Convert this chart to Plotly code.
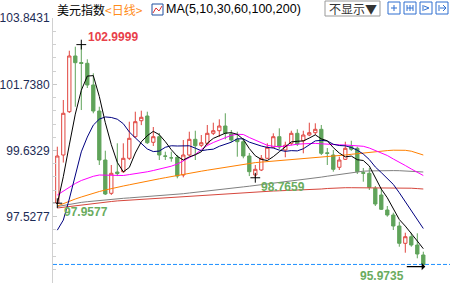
import plotly.graph_objects as go

# ---------------- data ----------------
idx = list(range(62))
opens = [97.96, 99.49, 100.867, 102.638, 102.43, 102.406, 101.716, 100.889, 99.331, 98.272,
         98.949, 98.959, 99.385, 100.072, 100.58, 100.73, 99.894, 100.072, 99.46, 99.40,
         99.417, 98.854, 99.49, 99.989, 99.798, 99.862, 100.18, 100.262, 100.412, 100.158,
         99.989, 99.913, 99.458, 98.854, 99.013, 99.385, 99.735, 100.072, 99.649, 99.862,
         100.18, 99.944, 100.126, 100.199, 100.307, 99.56, 99.49, 99.099, 99.353, 99.754,
         99.703, 98.93, 98.908, 98.431, 98.218, 97.741, 97.582, 97.232, 96.682, 96.892,
         96.628, 96.31]
highs = [99.754, 101.239, 102.806, 102.933, 102.9999, 102.533, 102.088, 101.025, 99.627, 99.172,
         99.862, 99.862, 100.549, 100.867, 100.899, 100.867, 100.38, 100.19, 99.595, 99.595,
         99.49, 99.967, 100.231, 100.262, 100.126, 100.444, 100.517, 100.625, 100.816, 100.285,
         100.231, 100.021, 99.554, 99.172, 99.49, 99.862, 100.18, 100.339, 99.913, 100.262,
         100.307, 100.262, 100.517, 100.498, 100.444, 99.712, 99.649, 99.436, 99.913, 99.944,
         99.754, 99.077, 99.077, 98.504, 98.431, 97.868, 97.655, 97.369, 97.019, 97.019,
         97.0, 96.415]
lows = [97.9577, 99.25, 100.825, 101.025, 100.92, 101.62, 100.816, 99.172, 98.218, 98.22,
        98.82, 98.92, 99.33, 100.03, 100.44, 99.84, 99.776, 99.331, 99.331, 99.277,
        98.749, 98.78, 99.46, 99.331, 99.74, 99.80, 100.126, 100.07, 99.989, 99.90,
        99.436, 99.385, 98.82, 98.7659, 98.98, 99.36, 99.71, 99.68, 99.417, 99.80,
        99.776, 99.544, 100.09, 100.126, 99.49, 99.172, 98.959, 99.013, 99.331, 99.62,
        98.886, 98.641, 98.377, 97.868, 97.741, 97.528, 97.105, 96.574, 96.383, 96.574,
        96.205, 95.9735]
closes = [99.458, 100.816, 102.638, 102.425, 102.40, 101.716, 100.889, 99.331, 98.25, 98.908,
          98.90, 99.385, 100.021, 100.549, 100.689, 99.881, 100.072, 99.49, 99.45, 99.40,
          98.822, 99.49, 99.989, 99.785, 99.881, 100.18, 100.262, 100.412, 100.18, 99.967,
          99.913, 99.458, 98.959, 99.035, 99.385, 99.735, 100.072, 99.744, 99.80, 100.18,
          99.84, 100.126, 100.199, 100.307, 99.544, 99.54, 99.035, 99.331, 99.703, 99.671,
          98.959, 98.91, 98.463, 97.932, 97.763, 97.582, 97.232, 96.682, 96.892, 96.628,
          96.342, 96.01]

ma5 = [97.93, 98.80, 99.81, 100.79, 101.547, 101.999, 102.014, 101.352, 100.517, 99.819,
       99.256, 98.955, 99.093, 99.553, 99.909, 100.105, 100.242, 100.136, 99.916, 99.659,
       99.447, 99.330, 99.430, 99.497, 99.593, 99.865, 100.019, 100.104, 100.183, 100.200,
       100.147, 99.986, 99.695, 99.466, 99.350, 99.314, 99.437, 99.594, 99.747, 99.906,
       99.927, 99.938, 100.029, 100.130, 100.003, 99.943, 99.725, 99.551, 99.431, 99.456,
       99.340, 99.315, 99.141, 98.787, 98.405, 98.130, 97.794, 97.438, 97.230, 97.003,
       96.755, 96.511]
ma10 = [97.10, 97.42, 98.09, 98.89, 99.59, 100.06, 100.44, 100.63, 100.70, 100.683,
        100.628, 100.485, 100.223, 100.035, 99.864, 99.681, 99.599, 99.615, 99.735, 99.784,
        99.776, 99.786, 99.783, 99.707, 99.626, 99.656, 99.675, 99.767, 99.840, 99.897,
        100.006, 100.003, 99.900, 99.825, 99.775, 99.731, 99.712, 99.645, 99.607, 99.629,
        99.621, 99.688, 99.812, 99.939, 99.955, 99.936, 99.832, 99.791, 99.781, 99.730,
        99.642, 99.520, 99.346, 99.109, 98.931, 98.735, 98.555, 98.290, 98.009, 97.704,
        97.443, 97.153]
ma30 = [98.218, 98.345, 98.472, 98.584, 98.679, 98.759, 98.813, 98.854, 98.848, 98.835,
        98.822, 98.838, 98.867, 98.892, 98.918, 98.956, 98.997, 99.035, 99.083, 99.134,
        99.204, 99.299, 99.394, 99.506, 99.665, 99.792, 99.887, 99.967, 100.046, 100.116,
        100.148, 100.142, 100.046, 99.967, 99.871, 99.798, 99.767, 99.754, 99.776, 99.808,
        99.833, 99.846, 99.859, 99.859, 99.846, 99.830, 99.824, 99.814, 99.808, 99.798,
        99.786, 99.767, 99.712, 99.633, 99.553, 99.474, 99.363, 99.267, 99.156, 99.045,
        98.940, 98.838]
ma60 = [97.868, 97.948, 98.021, 98.091, 98.154, 98.218, 98.275, 98.329, 98.377, 98.425,
        98.466, 98.504, 98.542, 98.584, 98.622, 98.657, 98.695, 98.733, 98.768, 98.806,
        98.838, 98.876, 98.908, 98.943, 98.975, 99.007, 99.038, 99.067, 99.099, 99.131,
        99.166, 99.197, 99.229, 99.248, 99.264, 99.280, 99.296, 99.309, 99.321, 99.334,
        99.347, 99.360, 99.375, 99.388, 99.407, 99.423, 99.442, 99.458, 99.490, 99.512,
        99.534, 99.557, 99.579, 99.598, 99.614, 99.630, 99.643, 99.649, 99.639, 99.611,
        99.560, 99.490]
ma100 = [97.852, 97.890, 97.925, 97.957, 97.983, 98.005, 98.027, 98.046, 98.065, 98.084,
         98.100, 98.113, 98.126, 98.139, 98.154, 98.167, 98.180, 98.193, 98.205, 98.221,
         98.240, 98.259, 98.282, 98.301, 98.320, 98.339, 98.358, 98.377, 98.402, 98.428,
         98.453, 98.476, 98.498, 98.520, 98.546, 98.571, 98.593, 98.612, 98.635, 98.660,
         98.685, 98.711, 98.733, 98.759, 98.787, 98.816, 98.844, 98.873, 98.908, 98.933,
         98.956, 98.975, 98.984, 98.991, 98.994, 98.994, 98.994, 98.991, 98.981, 98.972,
         98.962, 98.949]
ma200 = [97.805, 97.830, 97.856, 97.878, 97.900, 97.919, 97.945, 97.967, 97.989, 98.011,
         98.030, 98.043, 98.056, 98.069, 98.084, 98.097, 98.113, 98.126, 98.139, 98.151,
         98.164, 98.177, 98.189, 98.202, 98.215, 98.228, 98.240, 98.250, 98.263, 98.272,
         98.282, 98.291, 98.304, 98.317, 98.326, 98.336, 98.345, 98.352, 98.358, 98.364,
         98.371, 98.377, 98.377, 98.390, 98.409, 98.425, 98.441, 98.450, 98.450, 98.450,
         98.450, 98.450, 98.450, 98.450, 98.450, 98.450, 98.450, 98.450, 98.444, 98.434,
         98.422, 98.409]

ytick_vals = [97.5277, 99.6329, 101.7380, 103.8431]
ytick_text = ["97.5277", "99.6329", "101.7380", "103.8431"]
high_idx, high_val = 4, 102.9999
low_marks = [(0, 97.9577), (33, 98.7659)]
last_low_idx, last_low_val = 61, 95.9735
last_price = 96.01

# ---------------- layout geometry ----------------
W, H = 450, 283
ML, MT = 53, 18
PW, PH = W - ML, H - MT
YR = [95.420, 103.846]
XR = [-0.717, 65.45]


def px(x):
    return (x - ML) / PW


def py(y):
    return (H - y) / PH


fig = go.Figure()

fig.add_trace(go.Candlestick(
    x=idx, open=opens, high=highs, low=lows, close=closes,
    increasing=dict(line=dict(color="#e0453f", width=1), fillcolor="#ffffff"),
    decreasing=dict(line=dict(color="#5fa35a", width=1), fillcolor="#5fa35a"),
    whiskerwidth=0, showlegend=False, hoverinfo="skip",
))

ma_specs = [(ma200, "#d6463c"), (ma100, "#808080"), (ma60, "#ff8000"),
            (ma30, "#ff00ff"), (ma10, "#000080"), (ma5, "#000000")]
for series, col in ma_specs:
    fig.add_trace(go.Scatter(x=idx, y=series, mode="lines",
                             line=dict(color=col, width=1),
                             showlegend=False, hoverinfo="skip"))

# high / low markers
mk_x = [high_idx] + [m[0] for m in low_marks]
mk_y = [high_val] + [m[1] for m in low_marks]
fig.add_trace(go.Scatter(x=mk_x, y=mk_y, mode="markers",
                         marker=dict(symbol="cross-thin", size=7,
                                     line=dict(color="#000000", width=1)),
                         showlegend=False, hoverinfo="skip"))

# last price dashed line
fig.add_shape(type="line", xref="paper", yref="y", x0=0, x1=1,
              y0=last_price, y1=last_price,
              line=dict(color="#1e90ff", width=1, dash="4px,2px"))

ann = []
ann.append(dict(x=high_idx, y=high_val, xref="x", yref="y", text="<b>102.9999</b>",
                showarrow=False, xanchor="left", yanchor="middle", xshift=5, yshift=8,
                font=dict(family="Liberation Sans, Arial", size=12, color="#e8404a")))
green_txt = "#6aac5e"
ann.append(dict(x=low_marks[0][0], y=low_marks[0][1], xref="x", yref="y",
                text="<b>97.9577</b>", showarrow=False, xanchor="left", yanchor="middle",
                xshift=5, yshift=-9,
                font=dict(family="Liberation Sans, Arial", size=12, color=green_txt)))
ann.append(dict(x=low_marks[1][0], y=low_marks[1][1], xref="x", yref="y",
                text="<b>98.7659</b>", showarrow=False, xanchor="left", yanchor="middle",
                xshift=4, yshift=-9,
                font=dict(family="Liberation Sans, Arial", size=12, color=green_txt)))
ann.append(dict(x=last_low_idx, y=last_low_val, xref="x", yref="y",
                text="<b>95.9735</b>", showarrow=False, xanchor="right", yanchor="middle",
                xshift=-17, yshift=-10,
                font=dict(family="Liberation Sans, Arial", size=12, color=green_txt)))
ann.append(dict(x=last_low_idx, y=last_low_val, xref="x", yref="y", text="",
                showarrow=True, ax=-20, ay=0, arrowhead=1, arrowsize=1,
                arrowwidth=1.2, arrowcolor="#000000", standoff=0, xshift=2, yshift=-1))

# header
cjk = "Noto Sans CJK SC"
ann.append(dict(x=px(55), y=py(9), xref="paper", yref="paper", text="美元指数",
                showarrow=False, xanchor="left", yanchor="middle",
                font=dict(family=cjk, size=12, color="#000000")))
ann.append(dict(x=px(103), y=py(9), xref="paper", yref="paper", text="&lt;日线&gt;",
                showarrow=False, xanchor="left", yanchor="middle",
                font=dict(family=cjk, size=12, color="#ff8c1a")))
ann.append(dict(x=px(164), y=py(9), xref="paper", yref="paper",
                text="MA(5,10,30,60,100,200)", showarrow=False, xanchor="left",
                yanchor="middle",
                font=dict(family="Liberation Sans, Arial", size=12.5, color="#000000")))
ann.append(dict(x=px(352.5), y=py(8.5), xref="paper", yref="paper", text="不显示▼",
                showarrow=False, xanchor="center", yanchor="middle",
                font=dict(family=cjk, size=12, color="#333333")))

shapes = []
# MA icon
shapes.append(dict(type="rect", xref="paper", yref="paper", x0=px(152), x1=px(163),
                   y0=py(15), y1=py(4), line=dict(color="#2050a0", width=1)))
shapes.append(dict(type="path", xref="paper", yref="paper",
                   path="M %f %f L %f %f L %f %f L %f %f" % (px(153), py(13), px(156), py(8),
                                                         px(159), py(11), px(162), py(6)),
                   line=dict(color="#e03030", width=1)))
# dropdown box
shapes.append(dict(type="rect", xref="paper", yref="paper", x0=px(325), x1=px(380),
                   y0=py(16), y1=py(1), line=dict(color="#999999", width=1)))
# toolbar icons
for x0 in [388, 404, 420, 436]:
    shapes.append(dict(type="rect", xref="paper", yref="paper", x0=px(x0), x1=px(x0 + 12),
                       y0=py(14), y1=py(2), line=dict(color="#2f6fd0", width=1)))
blue = "#2f6fd0"
glyphs = [
    (391, 8, 397, 8), (394, 5, 394, 11),
    (407, 5, 407, 11), (410, 5, 410, 11), (413, 5, 413, 11), (407, 8, 413, 8),
    (423, 5, 423, 11), (424, 6, 429, 8), (424, 10, 429, 8),
    (439, 5, 439, 11), (440, 8, 446, 8), (443, 5, 446, 8), (443, 11, 446, 8),
]
for a, b, c, d in glyphs:
    shapes.append(dict(type="line", xref="paper", yref="paper", x0=px(a), y0=py(b),
                       x1=px(c), y1=py(d), line=dict(color=blue, width=1)))

minor_vals = []
step = (ytick_vals[1] - ytick_vals[0]) / 5
v = ytick_vals[0] - 5 * step
while v < YR[1]:
    minor_vals.append(round(v, 4))
    v += step

fig.update_layout(
    width=W, height=H,
    margin=dict(l=ML, r=0, t=MT, b=0),
    paper_bgcolor="#ffffff", plot_bgcolor="#ffffff",
    showlegend=False,
    boxgap=0.22,
    annotations=ann,
    shapes=fig.layout.shapes + tuple(shapes) if fig.layout.shapes else shapes,
    xaxis=dict(range=XR, visible=False, rangeslider=dict(visible=False), fixedrange=True),
    yaxis=dict(range=YR, tickmode="array", tickvals=ytick_vals, ticktext=ytick_text,
               showgrid=False, zeroline=False, showline=True, linecolor="#d0d0d0",
               linewidth=1, ticks="inside", ticklen=4, tickcolor="#c8c8c8",
               tickfont=dict(family="Liberation Sans, Arial", size=12, color="#1c2b55"),
               minor=dict(tickmode="array", tickvals=minor_vals, ticks="inside",
                          ticklen=3, tickcolor="#d0d0d0", showgrid=False)),
)

fig.write_html("out.html")
